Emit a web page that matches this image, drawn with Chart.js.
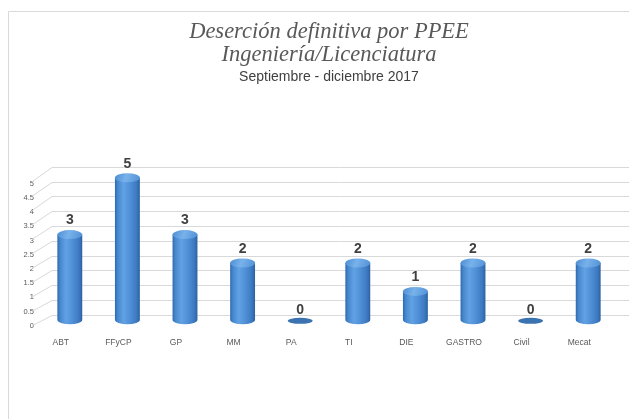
<!DOCTYPE html>
<html>
<head>
<meta charset="utf-8">
<script src="https://cdn.jsdelivr.net/npm/chart.js@4"></script>
<style>
html,body{margin:0;padding:0;background:#fff;}
#wrap{width:629px;height:419px;position:relative;}
</style>
</head>
<body>
<div id="wrap"><canvas id="c" width="629" height="419"></canvas></div>
<script>
const categories = ['ABT','FFyCP','GP','MM','PA','TI','DIE','GASTRO','Civil','Mecat'];
const desercion = [3,5,3,2,0,2,1,2,0,2];
const yTicks = [0,0.5,1,1.5,2,2.5,3,3.5,4,4.5,5];
const titleLines = ['Deserción definitiva por PPEE','Ingeniería/Licenciatura'];
const subtitleText = 'Septiembre - diciembre 2017';

const frame = {
  id: 'frame',
  beforeDraw(chart){
    const ctx = chart.ctx;
    ctx.save();
    ctx.fillStyle = '#fff';
    ctx.fillRect(0,0,chart.width,chart.height);
    ctx.strokeStyle = '#d9d9d9';
    ctx.lineWidth = 1;
    ctx.beginPath();
    ctx.moveTo(8.5, chart.height);
    ctx.lineTo(8.5, 11.5);
    ctx.lineTo(chart.width, 11.5);
    ctx.stroke();
    ctx.restore();
  }
};

const grid3d = {
  id: 'grid3d',
  beforeDatasetsDraw(chart){
    const ctx = chart.ctx, ys = chart.scales.y;
    ctx.save();
    ctx.strokeStyle = '#d9d9d9';
    ctx.lineWidth = 1;
    yTicks.forEach(v => {
      const yp = ys.getPixelForValue(v);
      const back = Math.round(yp - 5 - 1.2*v) + 0.5;
      const front = yp + 6 - 0.4*v;
      ctx.beginPath();
      ctx.moveTo(32, front);
      ctx.lineTo(52, back);
      ctx.lineTo(chart.width, back);
      ctx.stroke();
    });
    ctx.restore();
  }
};

const cylinders = {
  id: 'cylinders',
  afterDatasetsDraw(chart){
    const ctx = chart.ctx;
    const meta = chart.getDatasetMeta(0);
    const data = chart.data.datasets[0].data;
    ctx.save();
    meta.data.forEach((bar, i) => {
      const p = bar.getProps(['x','y','base','width'], true);
      const rx = p.width/2, x = p.x, top = p.y, base = p.base;
      const v = data[i];
      if (v === 0) {
        ctx.fillStyle = '#3b72b0';
        ctx.beginPath();
        ctx.ellipse(x, base + 1, rx, 3, 0, 0, Math.PI*2);
        ctx.fill();
      } else {
        const ry = 4.5;
        const g = ctx.createLinearGradient(x-rx, 0, x+rx, 0);
        g.addColorStop(0, '#3069ae');
        g.addColorStop(0.12, '#4789d0');
        g.addColorStop(0.35, '#62a1e3');
        g.addColorStop(0.6, '#5090d7');
        g.addColorStop(0.88, '#3c78bf');
        g.addColorStop(1, '#2c60a0');
        ctx.fillStyle = g;
        ctx.beginPath();
        ctx.moveTo(x-rx, top);
        ctx.lineTo(x-rx, base);
        ctx.ellipse(x, base, rx, ry, 0, Math.PI, 0, true);
        ctx.lineTo(x+rx, top);
        ctx.closePath();
        ctx.fill();
        const tg = ctx.createLinearGradient(x-rx, top-ry, x+rx, top+ry);
        tg.addColorStop(0, '#4c8cd4');
        tg.addColorStop(0.45, '#78b2ea');
        tg.addColorStop(1, '#5190d6');
        ctx.fillStyle = tg;
        ctx.beginPath();
        ctx.ellipse(x, top, rx, ry, 0, 0, Math.PI*2);
        ctx.fill();
      }
      ctx.fillStyle = '#404040';
      ctx.font = 'bold 14px "Liberation Sans", sans-serif';
      ctx.textAlign = 'center';
      ctx.textBaseline = 'middle';
      ctx.fillText(String(v), x, top - (v === 0 ? 10 : 14));
    });
    ctx.restore();
  }
};

new Chart(document.getElementById('c'), {
  type: 'bar',
  data: {
    labels: categories,
    datasets: [{
      data: desercion,
      backgroundColor: 'rgba(0,0,0,0)',
      borderWidth: 0,
      barPercentage: 0.48,
      categoryPercentage: 0.9
    }]
  },
  options: {
    responsive: false,
    animation: false,
    devicePixelRatio: 1,
    layout: { padding: { left: 8, right: 12, top: 0, bottom: 53 } },
    plugins: {
      legend: { display: false },
      tooltip: { enabled: false },
      title: {
        display: true,
        fullSize: false,
        text: titleLines,
        color: '#595959',
        font: { family: '"Liberation Serif", serif', size: 22.5, style: 'italic', weight: 'normal', lineHeight: 1.0 },
        padding: { top: 21, bottom: 0 }
      },
      subtitle: {
        display: true,
        fullSize: false,
        text: subtitleText,
        color: '#404040',
        font: { family: '"Liberation Sans", sans-serif', size: 14, lineHeight: 1.2 },
        padding: { top: 3, bottom: 92 }
      }
    },
    scales: {
      x: {
        grid: { display: false, drawTicks: false },
        border: { display: false },
        ticks: { color: '#595959', font: { family: '"Liberation Sans", sans-serif', size: 8.5 }, padding: 18, labelOffset: -9, maxRotation: 0, autoSkip: false }
      },
      y: {
        min: 0, max: 5,
        afterBuildTicks(scale){ scale.ticks = yTicks.map(v => ({ value: v })); },
        afterFit(scale){ scale.width = 33; },
        grid: { display: false, drawTicks: false },
        border: { display: false },
        ticks: { color: '#595959', font: { family: '"Liberation Sans", sans-serif', size: 7.5 }, padding: 7, labelOffset: 6,
          callback: v => String(v) }
      }
    }
  },
  plugins: [frame, grid3d, cylinders]
});
</script>
</body>
</html>
